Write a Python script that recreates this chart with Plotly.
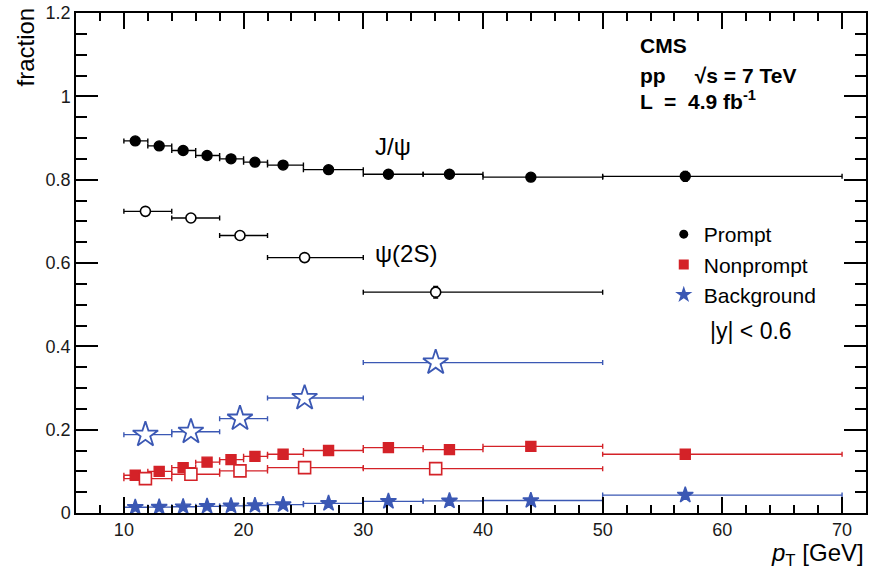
import plotly.graph_objects as go

# ---- data ----
jpsi_lo = [10, 12, 14, 16, 18, 20, 22, 25, 30, 35, 40, 50]
jpsi_hi = [12, 14, 16, 18, 20, 22, 25, 30, 35, 40, 50, 70]
jpsi_pt = [10.95, 12.95, 14.95, 16.95, 18.95, 20.95, 23.3, 27.1, 32.1, 37.2, 44.0, 56.9]
jpsi_prompt = [0.893, 0.881, 0.870, 0.858, 0.850, 0.842, 0.835, 0.824, 0.813, 0.813, 0.806, 0.808]
jpsi_prompt_err = [0.004, 0.004, 0.004, 0.004, 0.004, 0.004, 0.004, 0.004, 0.004, 0.004, 0.005, 0.012]
jpsi_nonprompt = [0.0905, 0.100, 0.109, 0.122, 0.128, 0.136, 0.141, 0.150, 0.157, 0.152, 0.160, 0.141]
jpsi_nonprompt_err = [0.003, 0.003, 0.003, 0.003, 0.003, 0.003, 0.003, 0.003, 0.003, 0.003, 0.004, 0.006]
jpsi_bkg = [0.0137, 0.014, 0.015, 0.016, 0.017, 0.018, 0.020, 0.023, 0.028, 0.029, 0.030, 0.043]
jpsi_bkg_err = [0.001, 0.001, 0.001, 0.001, 0.001, 0.001, 0.001, 0.001, 0.001, 0.001, 0.002, 0.003]

psi2s_lo = [10, 14, 18, 22, 30]
psi2s_hi = [14, 18, 22, 30, 50]
psi2s_pt = [11.8, 15.6, 19.7, 25.1, 36.05]
psi2s_prompt = [0.724, 0.708, 0.666, 0.613, 0.530]
psi2s_prompt_err = [0.004, 0.004, 0.005, 0.005, 0.014]
psi2s_nonprompt = [0.0825, 0.093, 0.101, 0.109, 0.1065]
psi2s_nonprompt_err = [0.003, 0.003, 0.003, 0.004, 0.005]
psi2s_bkg = [0.188, 0.195, 0.2265, 0.276, 0.361]
psi2s_bkg_err = [0.003, 0.003, 0.004, 0.005, 0.008]

legend_names = ["Prompt", "Nonprompt", "Background"]

BLACK = "#000000"
RED = "#d42228"
BLUE = "#3b58b4"


def xerrs(pt, lo, hi):
    plus = [h - p for p, h in zip(pt, hi)]
    minus = [p - l for p, l in zip(pt, lo)]
    return plus, minus


fig = go.Figure()


def add_series(pt, lo, hi, vals, errs, color, symbol, size, fill, lw=1.4):
    plus, minus = xerrs(pt, lo, hi)
    fig.add_trace(go.Scatter(
        x=pt, y=vals, mode="markers", showlegend=False,
        marker=dict(symbol=symbol, size=size, color=fill,
                    line=dict(color=color, width=lw)),
        error_x=dict(type="data", array=plus, arrayminus=minus,
                     color=color, thickness=1.4, width=2.5),
        error_y=dict(type="data", array=errs, color=color,
                     thickness=1.4, width=2.5),
    ))


# J/psi (filled)
add_series(jpsi_pt, jpsi_lo, jpsi_hi, jpsi_prompt, jpsi_prompt_err, BLACK, "circle", 10, BLACK)
add_series(jpsi_pt, jpsi_lo, jpsi_hi, jpsi_nonprompt, jpsi_nonprompt_err, RED, "square", 10, RED)
add_series(jpsi_pt, jpsi_lo, jpsi_hi, jpsi_bkg, jpsi_bkg_err, BLUE, "star", 12, BLUE)
# psi(2S) (open)
add_series(psi2s_pt, psi2s_lo, psi2s_hi, psi2s_prompt, psi2s_prompt_err, BLACK, "circle", 10, "white", 1.6)
add_series(psi2s_pt, psi2s_lo, psi2s_hi, psi2s_nonprompt, psi2s_nonprompt_err, RED, "square", 12, "white", 1.6)
add_series(psi2s_pt, psi2s_lo, psi2s_hi, psi2s_bkg, psi2s_bkg_err, BLUE, "star", 19, "white", 1.8)

# legend entries
for name, color, symbol, size in zip(legend_names, [BLACK, RED, BLUE],
                                      ["circle", "square", "star"], [9, 10, 13]):
    fig.add_trace(go.Scatter(
        x=[None], y=[None], mode="markers", name=name, legendgroup=name,
        marker=dict(symbol=symbol, size=size, color=color),
    ))

FONT = "Liberation Sans, Arial, sans-serif"

axis_common = dict(
    showline=True, linecolor="black", linewidth=1.5, mirror="ticks",
    ticks="inside", tickcolor="black", tickwidth=1.5,
    showgrid=False, zeroline=False, automargin=False,
    tickfont=dict(family=FONT, size=18, color="#1a1a1a"),
)

fig.update_layout(
    width=880, height=575,
    paper_bgcolor="white", plot_bgcolor="white",
    margin=dict(l=76, r=14, t=13, b=62),
    font=dict(family=FONT, color="black"),
    xaxis=dict(range=[6, 72], tick0=10, dtick=10, ticklen=16,
               minor=dict(dtick=2, tick0=10, ticklen=8, ticks="inside",
                          tickcolor="black", tickwidth=1.5),
               **axis_common),
    yaxis=dict(range=[0, 1.2], tick0=0, dtick=0.2, ticklen=22,
               minor=dict(dtick=0.05, ticklen=11, ticks="inside",
                          tickcolor="black", tickwidth=1.5),
               **axis_common),
    legend=dict(x=0.744, y=0.598, xanchor="left", yanchor="top",
                bgcolor="rgba(0,0,0,0)", tracegroupgap=0,
                font=dict(family=FONT, size=21, color="black")),
)

annotations = [
    dict(text="fraction", xref="paper", yref="paper", x=-0.0633, y=0.933,
         xanchor="center", yanchor="middle",
         textangle=-90, showarrow=False, font=dict(size=24)),
    dict(text="<i>p</i><sub>T</sub> [GeV]", xref="paper", yref="paper",
         x=1.0, y=-0.082, xanchor="right", yanchor="middle", showarrow=False,
         font=dict(size=24)),
    dict(text="J/ψ", xref="x", yref="y", x=30.8, y=0.880, xanchor="left",
         yanchor="middle", showarrow=False, font=dict(size=24)),
    dict(text="ψ(2S)", xref="x", yref="y", x=30.8, y=0.623, xanchor="left",
         yanchor="middle", showarrow=False, font=dict(size=24)),
    dict(text="<b>CMS</b>", xref="paper", yref="paper", x=0.711, y=0.934,
         xanchor="left", yanchor="middle", showarrow=False, font=dict(size=21)),
    dict(text="<b>pp     √s = 7 TeV</b>", xref="paper", yref="paper", x=0.711, y=0.876,
         xanchor="left", yanchor="middle", showarrow=False, font=dict(size=21)),
    dict(text="<b>L  =  4.9 fb<sup>-1</sup></b>", xref="paper", yref="paper", x=0.711, y=0.826,
         xanchor="left", yanchor="middle", showarrow=False, font=dict(size=21)),
    dict(text="|y| < 0.6", xref="paper", yref="paper", x=0.80, y=0.364,
         xanchor="left", yanchor="middle", showarrow=False, font=dict(size=23)),
]
fig.update_layout(annotations=annotations)

fig.write_html("out.html", config={"displayModeBar": False},
               post_script="document.body.style.margin='0';")
